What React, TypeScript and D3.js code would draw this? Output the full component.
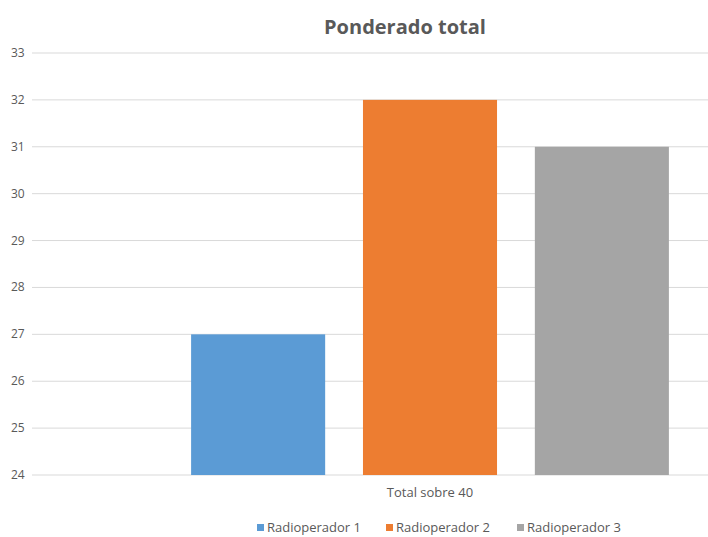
import React from "react";
import * as d3 from "d3";

const categories = ["Total sobre 40"];
const seriesNames = ["Radioperador 1", "Radioperador 2", "Radioperador 3"];
const seriesValues = [27, 32, 31];
const colors = ["#5B9BD5", "#ED7D31", "#A5A5A5"];
const yTicks = [24, 25, 26, 27, 28, 29, 30, 31, 32, 33];
const title = "Ponderado total";

const W = 708;
const H = 537;
const font = "'Open Sans', 'Liberation Sans', sans-serif";

export default function App() {
  const plotLeft = 32;
  const plotRight = 828;
  const y = d3.scaleLinear().domain([24, 33]).range([475, 53]);
  const x0 = d3.scaleBand().domain(categories).range([plotLeft, plotRight]).paddingOuter(0.333).paddingInner(0);
  const x1 = d3.scaleBand().domain(seriesNames).range([0, x0.bandwidth()]).paddingInner(0.22).paddingOuter(0);

  const legendX = [257, 386, 517];

  return (
    <svg width={W} height={H} style={{ position: "absolute", left: 0, top: 0, background: "#fff" }} fontFamily={font}>
      <rect x={0} y={0} width={W} height={H} fill="#fff" />
      <text x={405} y={34} textAnchor="middle" fontSize={20} fontWeight="bold" fill="#595959">{title}</text>
      {yTicks.map((t) => (
        <g key={t}>
          <line x1={plotLeft} x2={W} y1={y(t)} y2={y(t)} stroke="#D9D9D9" strokeWidth={1} />
          <text x={11} y={y(t) + 4} fontSize={12} fill="#595959">{t}</text>
        </g>
      ))}
      {categories.map((c) => (
        <g key={c} transform={`translate(${x0(c)},0)`}>
          {seriesNames.map((s, i) => (
            <rect key={s} x={x1(s)} y={y(seriesValues[i])} width={x1.bandwidth()} height={y(24) - y(seriesValues[i])} fill={colors[i]} />
          ))}
          <text x={x0.bandwidth() / 2} y={497} textAnchor="middle" fontSize={13} fill="#595959">{c}</text>
        </g>
      ))}
      {seriesNames.map((s, i) => (
        <g key={s} transform={`translate(${legendX[i]},0)`}>
          <rect x={0} y={524} width={7} height={7} fill={colors[i]} />
          <text x={10} y={532} fontSize={13} fill="#595959">{s}</text>
        </g>
      ))}
    </svg>
  );
}
